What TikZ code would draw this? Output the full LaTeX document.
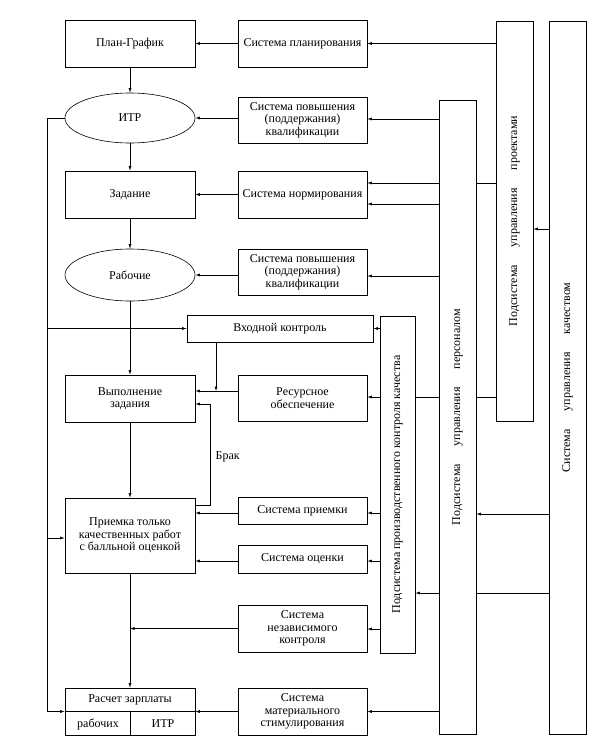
\documentclass[tikz,border=0pt]{standalone}
\usepackage{fontspec}
\setmainfont{Liberation Serif}
\usetikzlibrary{arrows.meta,shapes.geometric}
\begin{document}
\begin{tikzpicture}[x=1pt,y=-1pt,
  font=\fontsize{12}{12.5}\selectfont,
  line width=0.6pt,
  box/.style={draw, inner sep=0pt, align=center},
  lbox/.style={box, minimum width=130pt},
  rbox/.style={box, minimum width=129pt},
  ell/.style={draw, ellipse, inner sep=0pt, minimum width=130pt},
  bar/.style={draw, inner sep=0pt, minimum width=37pt},
  arr/.style={-{Latex[length=4.5pt,width=3pt]}}]
\useasboundingbox (0,0) rectangle (605,742);

% left column
\node[lbox, minimum height=47pt] (plan) at (130,43.5) {План-График};
\node[ell, minimum height=50pt] (itr) at (130,118) {ИТР};
\node[lbox, minimum height=47pt] (zad) at (130,194.5) {Задание};
\node[ell, minimum height=52pt] (rab) at (130,275) {Рабочие};
\node[lbox, minimum height=47pt] (vyp) at (130,398.5) {Выполнение\\задания};
\node[lbox, minimum height=75pt] (prm) at (130,535.5) {Приемка только\\качественных работ\\с балльной оценкой};
\node[lbox, minimum height=47pt] (ras) at (130,711.5) {};
\node (rast) at (130,700) {Расчет зарплаты};
\node (rasr) at (98,724) {рабочих};
\node (rasi) at (163,724) {ИТР};
\draw (ras.west) -- (ras.east);
\draw (ras.center) -- (ras.south);

% middle column
\node[rbox, minimum height=47pt] (splan) at (302.5,43.5) {Система планирования};
\node[rbox, minimum height=46pt] (spov1) at (302.5,120) {Система повышения\\(поддержания)\\квалификации};
\node[rbox, minimum height=47pt] (snorm) at (302.5,194.5) {Система нормирования};
\node[rbox, minimum height=46pt] (spov2) at (302.5,272) {Система повышения\\(поддержания)\\квалификации};
\node[box, minimum width=186pt, minimum height=27pt] (vk) at (280,328.5) {Входной контроль};
\node[rbox, minimum height=46pt] (res) at (302.5,398) {Ресурсное\\обеспечение};
\node[rbox, minimum height=27pt] (spr) at (302.5,510.5) {Система приемки};
\node[rbox, minimum height=28pt] (soc) at (302.5,559) {Система оценки};
\node[rbox, minimum height=47pt] (snk) at (302.5,628.5) {Система\\независимого\\контроля};
\node[rbox, minimum height=47pt] (smat) at (302.5,711.5) {Система\\материального\\стимулирования};

% vertical bars
\node[bar, minimum width=35pt, minimum height=337pt,
  label={[rotate=90]center:Подсистема производственного контроля качества}] (pkk) at (397.5,484.5) {};
\node[bar, minimum height=634pt,
  label={[rotate=90]center:Подсистема\hspace{18pt}управления\hspace{18pt}персоналом}] (pers) at (457.5,417) {};
\node[bar, minimum height=400pt,
  label={[rotate=90]center:Подсистема\hspace{18pt}управления\hspace{18pt}проектами}] (proj) at (514.5,221) {};
\node[bar, minimum height=713pt,
  label={[rotate=90]center:Система\hspace{18pt}управления\hspace{18pt}качеством}] (qual) at (567.5,377.5) {};

% main vertical flow
\draw[arr] (plan.south) -- (itr.north);
\draw[arr] (itr.south) -- (zad.north);
\draw[arr] (zad.south) -- (rab.north);
\draw[arr] (rab.south) -- (vyp.north);
\draw[arr] (vyp.south) -- (prm.north);
\draw[arr] (prm.south) -- (ras.north);

% systems to left column
\draw[arr] (splan.west) -- (plan.east);
\draw[arr] (spov1.west |- itr.east) -- (itr.east);
\draw[arr] (snorm.west) -- (zad.east);
\draw[arr] (spov2.west |- rab.east) -- (rab.east);
\draw[arr] (res.west |- 0,391) -- (vyp.east |- 0,391);
\draw[arr] (spr.west |- 0,513) -- (prm.east |- 0,513);
\draw[arr] (soc.west |- 0,561) -- (prm.east |- 0,561);
\draw[arr] (snk.west) -- (prm.south |- snk.west);
\draw[arr] (smat.west) -- (ras.east);

% input control down to line
\coordinate (vkx) at (216,391);
\draw[arr] (vkx |- vk.south) -- (vkx);

% defect loop
\coordinate (bx) at (210,505);
\draw[arr] (prm.east |- bx) -- (bx) -- (bx |- 0,404) -- (vyp.east |- 0,404);
\node[anchor=west] (brak) at (212,457) {Брак};

% left loop from ITR
\coordinate (lx) at (47,118);
\draw[arr] (itr.west) -- (lx) -- (lx |- ras.west) -- (ras.west);
\draw[arr] (lx |- vk.west) -- (vk.west);
\draw[arr] (lx |- 0,538) -- (prm.west |- 0,538);

% bars to systems
\draw[arr] (proj.west |- splan.east) -- (splan.east);
\draw[arr] (pers.west |- 0,119) -- (spov1.east |- 0,119);
\draw (proj.west |- 0,183) -- (pers.east |- 0,183);
\draw[arr] (pers.west |- 0,183) -- (snorm.east |- 0,183);
\draw[arr] (pers.west |- 0,204) -- (snorm.east |- 0,204);
\draw[arr] (qual.west |- 0,229) -- (proj.east |- 0,229);
\draw[arr] (pers.west |- 0,276) -- (spov2.east |- 0,276);
\draw[arr] (pkk.west |- vk.east) -- (vk.east);
\draw (proj.west |- 0,397) -- (pers.east |- 0,397);
\draw (pers.west |- 0,397) -- (pkk.east |- 0,397);
\draw[arr] (pkk.west |- 0,397) -- (res.east |- 0,397);
\draw[arr] (qual.west |- 0,514) -- (pers.east |- 0,514);
\draw (qual.west |- 0,593) -- (pers.east |- 0,593);
\draw[arr] (pers.west |- 0,593) -- (pkk.east |- 0,593);
\draw[arr] (pkk.west |- 0,513) -- (spr.east |- 0,513);
\draw[arr] (pkk.west |- 0,561) -- (soc.east |- 0,561);
\draw[arr] (pkk.west |- 0,629) -- (snk.east |- 0,629);
\draw[arr] (pers.west |- smat.east) -- (smat.east);
\end{tikzpicture}
\end{document}
